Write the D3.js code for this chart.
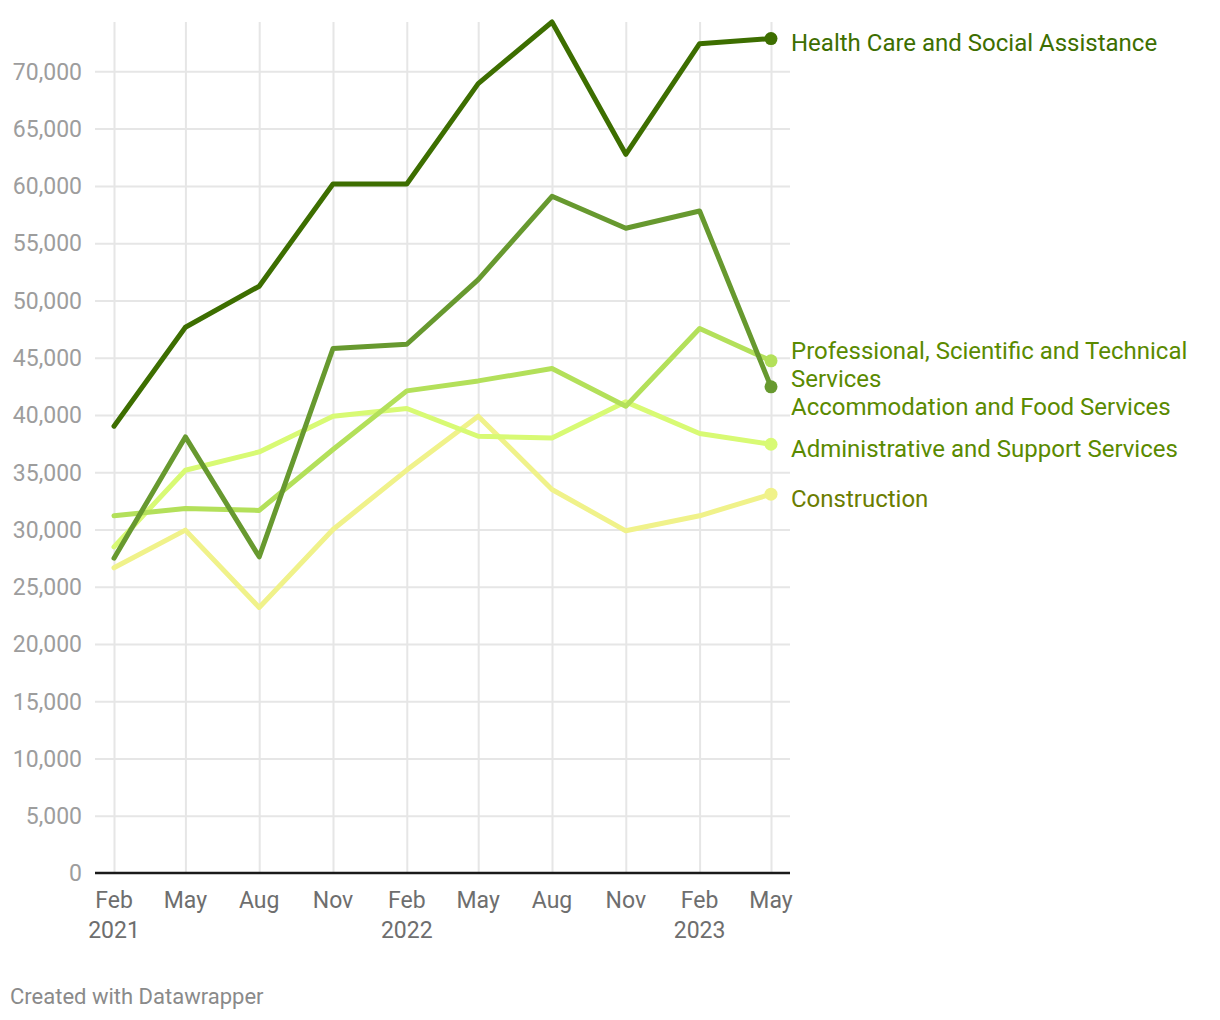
<!DOCTYPE html>
<html><head><meta charset="utf-8">
<script src="https://cdn.jsdelivr.net/npm/d3@7"></script>
<style>body{margin:0;background:#fff;font-family:Roboto,sans-serif}</style>
</head><body><svg id="c" width="1220" height="1020"></svg>
<script>
const dates = ["2021-02-01","2021-05-01","2021-08-01","2021-11-01","2022-02-01","2022-05-01","2022-08-01","2022-11-01","2023-02-01","2023-05-01"];
const monthLabels = ["Feb","May","Aug","Nov","Feb","May","Aug","Nov","Feb","May"];
const yearLabels = ["2021","","","","2022","","","","2023",""];
const seriesNames = ["Construction","Administrative and Support Services","Professional, Scientific and Technical Services","Accommodation and Food Services","Health Care and Social Assistance"];
const construction = [26650,29940,23190,30000,35180,39890,33490,29880,31190,33080];
const administrative = [28480,35170,36770,39890,40560,38140,37990,41140,38380,37440];
const professional = [31190,31830,31660,36980,42100,42970,44050,40760,47540,44720];
const accommodation = [27490,38080,27610,45800,46170,51820,59090,56300,57810,42450];
const health = [39015,47660,51240,60170,60170,68930,74310,62760,72420,72860];
const lineColors = ["#f0f28a","#d8fa74","#b3e05a","#67992f","#3d6e00"];
const labelColors = ["#6b7d00","#5a8a00","#5a8a00","#5a8a00","#3d6e00"];
const yTicks = [0,5000,10000,15000,20000,25000,30000,35000,40000,45000,50000,55000,60000,65000,70000];

const seriesValues = [construction, administrative, professional, accommodation, health];
const parse = d3.timeParse("%Y-%m-%d");
const xDates = dates.map(parse);
const svg = d3.select("#c");

const x = d3.scaleTime().domain(d3.extent(xDates)).range([114, 771]);
const y = d3.scaleLinear().domain([0, d3.max(seriesValues.flat())]).range([873, 22]);
const fmt = d3.format(",");

// horizontal grid + y labels
const yAxis = svg.append("g").attr("transform", "translate(95,0)")
  .call(d3.axisLeft(y).tickValues(yTicks).tickFormat(fmt).tickSize(-695).tickPadding(13));
yAxis.select(".domain").remove();
yAxis.selectAll(".tick line").attr("stroke", "#e6e6e6").attr("stroke-width", 2)
  .filter(d => d === 0).remove();
yAxis.selectAll(".tick text").attr("fill", "#9d9d9d").style("font-family", "Roboto").style("font-size", "23px").attr("dy", "0.34em");

// vertical grid
const xAxis = svg.append("g").attr("transform", "translate(0,873)")
  .call(d3.axisBottom(x).tickValues(xDates).tickSize(-851).tickFormat(""));
xAxis.select(".domain").remove();
xAxis.selectAll(".tick line").attr("stroke", "#e6e6e6").attr("stroke-width", 2);

// x labels
const xl = svg.append("g");
xDates.forEach((d, i) => {
  xl.append("text").attr("x", x(d)).attr("y", 908).attr("text-anchor", "middle")
    .attr("fill", "#6e6e6e").style("font-size", "23px").text(monthLabels[i]);
  if (yearLabels[i]) xl.append("text").attr("x", x(d)).attr("y", 938).attr("text-anchor", "middle")
    .attr("fill", "#6e6e6e").style("font-size", "23px").text(yearLabels[i]);
});

// baseline
svg.append("line").attr("x1", 95).attr("x2", 790).attr("y1", y(0)).attr("y2", y(0))
  .attr("stroke", "#1a1a1a").attr("stroke-width", 2.5);

// lines
const line = d3.line().x((d, i) => x(xDates[i])).y(d => y(d));
seriesValues.forEach((vals, k) => {
  svg.append("path").datum(vals).attr("d", line).attr("fill", "none")
    .attr("stroke", lineColors[k]).attr("stroke-width", 5).attr("stroke-linejoin", "round").attr("stroke-linecap", "round");
});
seriesValues.forEach((vals, k) => {
  svg.append("circle").attr("cx", x(xDates[xDates.length - 1])).attr("cy", y(vals[vals.length - 1]))
    .attr("r", 6.5).attr("fill", lineColors[k]);
});

// labels with wrapping + collision avoidance
const lblG = svg.append("g");
const labels = seriesNames.map((name, k) => {
  const t = lblG.append("text").attr("x", 791).attr("fill", labelColors[k]).style("font-size", "24px");
  const words = name.split(" ");
  let lines = [], cur = [];
  words.forEach(w => {
    cur.push(w);
    t.text(cur.join(" "));
    if (t.node().getComputedTextLength() > 410 && cur.length > 1) {
      cur.pop(); lines.push(cur.join(" ")); cur = [w];
    }
  });
  lines.push(cur.join(" "));
  t.text(null);
  return { t, lines, cy: y(seriesValues[k][seriesValues[k].length - 1]) + 4 };
});
labels.sort((a, b) => a.cy - b.cy);
const lh = 28, spacing = 28;
let prevBottom = -Infinity;
labels.forEach(l => {
  const h = l.lines.length * lh;
  let top = l.cy - h / 2;
  if (top < prevBottom) top = prevBottom;
  prevBottom = top + h;
  const c = top + h / 2;
  const first = c - (l.lines.length - 1) * spacing / 2;
  l.lines.forEach((ln, j) => {
    l.t.append("tspan").attr("x", 791).attr("y", first + j * spacing).attr("dy", "0.35em").text(ln);
  });
});

svg.append("text").attr("x", 10).attr("y", 1004).attr("fill", "#8a8a8a").style("font-size", "22px").text("Created with Datawrapper");
</script></body></html>
